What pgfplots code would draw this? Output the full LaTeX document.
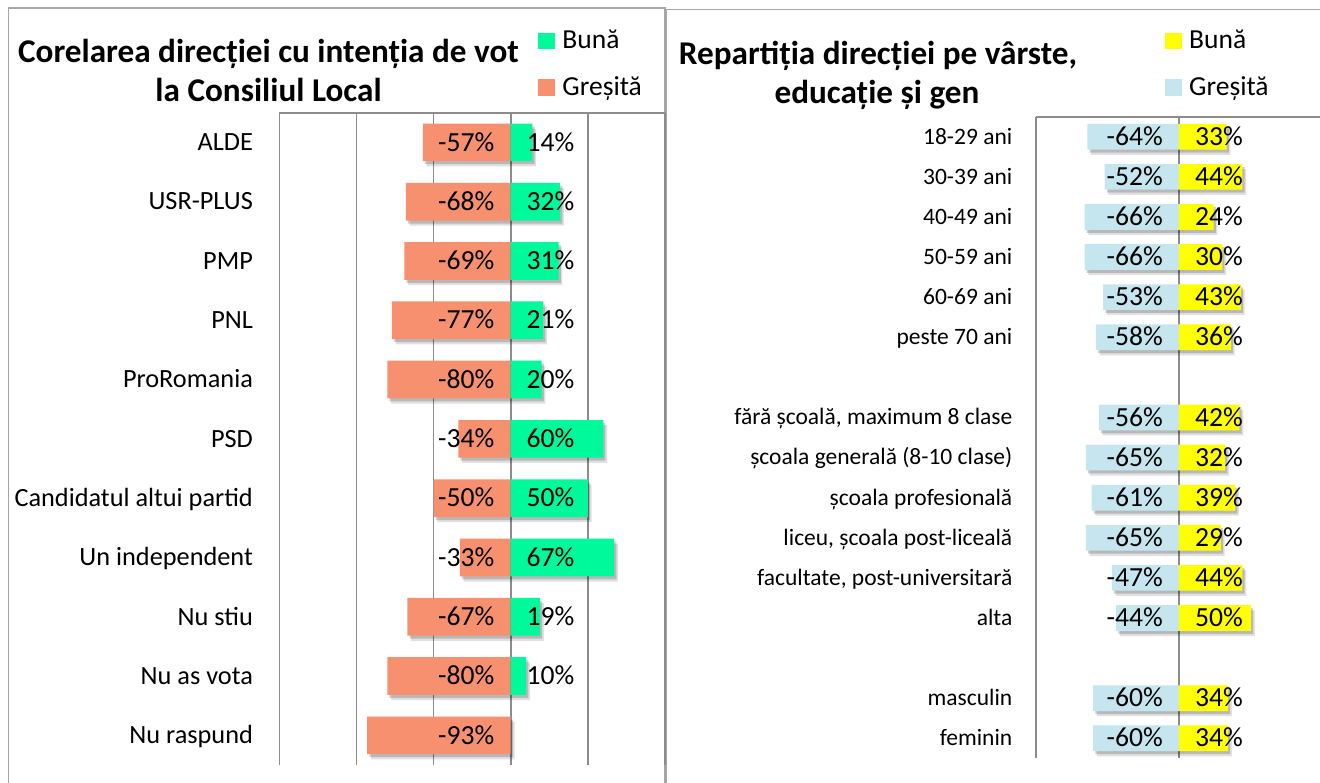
\documentclass[border=0pt]{standalone}
\usepackage{pgfplots}
\pgfplotsset{compat=1.18}
\usepackage{pgfplotstable}
\usepackage{fontspec}
\setmainfont{Carlito}
\definecolor{bunaL}{HTML}{00F99A}
\definecolor{gresL}{HTML}{F7906F}
\definecolor{bunaR}{HTML}{FFFF00}
\definecolor{gresR}{HTML}{C5E6EF}
\definecolor{gridc}{HTML}{8C8C8C}
\definecolor{framec}{HTML}{A6A6A6}

\pgfplotstableread{
y neg pos
1 -57 14
2 -68 32
3 -69 31
4 -77 21
5 -80 20
6 -34 60
7 -50 50
8 -33 67
9 -67 19
10 -80 10
11 -93 nan
}\leftdata

\pgfplotstableread{
y neg pos
1 -64 33
2 -52 44
3 -66 24
4 -66 30
5 -53 43
6 -58 36
8 -56 42
9 -65 32
10 -61 39
11 -65 29
12 -47 44
13 -44 50
15 -60 34
16 -60 34
}\rightdata

\pgfplotsset{
  shadowed/.style={
    preaction={fill=black, opacity=0.12, transform canvas={xshift=1.9pt,yshift=-2.6pt}},
    preaction={fill=black, opacity=0.18, transform canvas={xshift=1.1pt,yshift=-1.5pt}}},
  neglabel/.style={draw=none, mark=none, forget plot, point meta=explicit,
    nodes near coords={\pgfmathprintnumber[assume math mode=true]{\pgfplotspointmeta}\%},
    every node near coord/.append style={anchor=east, xshift=-8pt, inner sep=0pt,
      font=\fontsize{13.8}{16}\selectfont, text height=8.72pt, text depth=0pt, text=black}},
  poslabel/.style={draw=none, mark=none, forget plot, point meta=explicit,
    nodes near coords={\pgfmathprintnumber[assume math mode=true]{\pgfplotspointmeta}\%},
    every node near coord/.append style={anchor=west, xshift=7.8pt, inner sep=0pt,
      font=\fontsize{13.8}{16}\selectfont, text height=8.72pt, text depth=0pt, text=black}},
}

\begin{document}
\begin{tikzpicture}
\path[use as bounding box] (0,0) rectangle (660pt,-391pt);
% panel frames
\draw[framec, line width=0.8pt] (4.15pt,-400pt) -- (4.15pt,-3.9pt) -- (332.4pt,-3.9pt) -- (332.4pt,-400pt);
\draw[framec, line width=0.8pt] (333.3pt,-400pt) -- (333.3pt,-4.8pt) -- (670pt,-4.8pt);
% titles
\node[anchor=base, font=\bfseries\fontsize{16.6}{19}\selectfont, inner sep=0pt] at (134.25pt,-31.35pt) {Corelarea direcției cu intenția de vot};
\node[anchor=base, font=\bfseries\fontsize{16.6}{19}\selectfont, inner sep=0pt] at (134.25pt,-50.85pt) {la Consiliul Local};
\node[anchor=base, font=\bfseries\fontsize{16.6}{19}\selectfont, inner sep=0pt] at (439pt,-32.35pt) {Repartiția direcției pe vârste,};
\node[anchor=base, font=\bfseries\fontsize{16.6}{19}\selectfont, inner sep=0pt] at (438.5pt,-51.85pt) {educație și gen};

% ---------------- left panel
\begin{axis}[
  at={(139.65pt,-56.35pt)}, anchor=north west, scale only axis,
  width=192.85pt, height=326.15pt,
  xmin=-150, xmax=100, ymin=0.5, ymax=11.5, y dir=reverse,
  axis x line*=top, axis y line*=left,
  axis line style={draw=gridc, line width=0.8pt, -},
  xtick={-100,-50,0,50,100}, xticklabels=\empty,
  xmajorgrids, grid style={draw=gridc, line width=0.8pt},
  major tick length=0pt,
  ytick={1,...,11},
  yticklabels={ALDE,USR-PLUS,PMP,PNL,ProRomania,PSD,Candidatul altui partid,Un independent,Nu stiu,Nu as vota,Nu raspund},
  yticklabel style={font=\fontsize{13.15}{15}\selectfont, inner sep=0pt, xshift=-13pt, text height=8.31pt, text depth=0pt},
  clip=false,
  legend cell align=left,
  legend style={at={([yshift=41.25pt]axis description cs:0.6715,1)}, anchor=north west,
    draw=none, fill=none, inner sep=0pt, outer sep=0pt,
    font=\fontsize{13.75}{16}\selectfont, row sep=12.4pt, column sep=3.85pt,
    nodes={inner sep=0pt}},
]
\addplot[xbar, bar width=0.636, bar shift=0pt, fill=gresL, draw=none, forget plot, shadowed] table[x=neg, y=y]{\leftdata};
\addplot[xbar, bar width=0.636, bar shift=0pt, fill=bunaL, draw=none, forget plot, shadowed] table[x=pos, y=y]{\leftdata};
\addplot[neglabel] table[x expr=0, y=y, meta=neg]{\leftdata};
\addplot[poslabel, skip coords between index={10}{11}] table[x expr=0, y=y, meta=pos]{\leftdata};
\addlegendimage{legend image code/.code={\fill[bunaL] (0pt,-3.925pt) rectangle (7.85pt,3.925pt);}}
\addlegendentry{Bună}
\addlegendimage{legend image code/.code={\fill[gresL] (0pt,-3.925pt) rectangle (7.85pt,3.925pt);}}
\addlegendentry{Greșită}
\end{axis}

% ---------------- right panel
\begin{axis}[
  at={(517.85pt,-58.35pt)}, anchor=north west, scale only axis,
  width=143.5pt, height=320.8pt,
  xmin=-100, xmax=100, ymin=0.5, ymax=16.5, y dir=reverse,
  axis x line*=top, axis y line*=left,
  axis line style={draw=gridc, line width=0.8pt, -},
  xtick={0}, xticklabels=\empty,
  xmajorgrids, grid style={draw=gridc, line width=0.8pt},
  major tick length=0pt,
  ytick={1,2,3,4,5,6,8,9,10,11,12,13,15,16},
  yticklabels={18-29 ani,30-39 ani,40-49 ani,50-59 ani,60-69 ani,peste 70 ani,{fără școală, maximum 8 clase},{școala generală (8-10 clase)},școala profesională,{liceu, școala post-liceală},{facultate, post-universitară},alta,masculin,feminin},
  yticklabel style={font=\fontsize{11.75}{14}\selectfont, inner sep=0pt, xshift=-11.5pt, text height=7.43pt, text depth=0pt},
  clip=false,
  legend cell align=left,
  legend style={at={([yshift=43.25pt]axis description cs:0.4505,1)}, anchor=north west,
    draw=none, fill=none, inner sep=0pt, outer sep=0pt,
    font=\fontsize{13.75}{16}\selectfont, row sep=12.4pt, column sep=3.85pt,
    nodes={inner sep=0pt}},
]
\addplot[xbar, bar width=0.64, bar shift=0pt, fill=gresR, draw=none, forget plot, shadowed] table[x=neg, y=y]{\rightdata};
\addplot[xbar, bar width=0.64, bar shift=0pt, fill=bunaR, draw=none, forget plot, shadowed] table[x=pos, y=y]{\rightdata};
\addplot[neglabel] table[x expr=0, y=y, meta=neg]{\rightdata};
\addplot[poslabel] table[x expr=0, y=y, meta=pos]{\rightdata};
\addlegendimage{legend image code/.code={\fill[bunaR] (0pt,-3.925pt) rectangle (7.85pt,3.925pt);}}
\addlegendentry{Bună}
\addlegendimage{legend image code/.code={\fill[gresR] (0pt,-3.925pt) rectangle (7.85pt,3.925pt);}}
\addlegendentry{Greșită}
\end{axis}
\end{tikzpicture}
\end{document}
